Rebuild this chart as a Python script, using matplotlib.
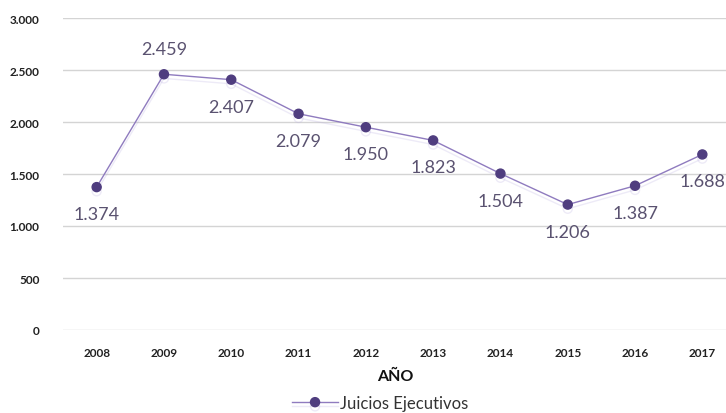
import matplotlib.pyplot as plt
import matplotlib.patheffects as pe
from matplotlib.ticker import FuncFormatter

years = ["2008", "2009", "2010", "2011", "2012", "2013", "2014", "2015", "2016", "2017"]
juicios = [1374, 2459, 2407, 2079, 1950, 1823, 1504, 1206, 1387, 1688]
label_above = [False, True, False, False, False, False, False, False, False, False]
yticks = [0, 500, 1000, 1500, 2000, 2500, 3000]

plt.rcParams["font.family"] = ["Lato", "DejaVu Sans"]

LINE = "#8f7bbf"
MARK = "#4f3d7f"
TXT = "#5a5270"


def fmt(v):
    return f"{int(v):,}".replace(",", ".")


fig = plt.figure(figsize=(7.26, 4.14), dpi=100)
# axes runs slightly past the right edge, as in the cropped original
ax = fig.add_axes([63 / 726, 83 / 414, 673 / 726, 312 / 414])

x = list(range(len(years)))
ax.plot(x, juicios, color=LINE, lw=1.0, marker="o", markersize=6.5,
        markerfacecolor=MARK, markeredgecolor=MARK, label="Juicios Ejecutivos",
        zorder=3,
        path_effects=[pe.SimpleLineShadow(offset=(0, -3), shadow_color="#b9aee0", alpha=0.25),
                      pe.Normal()])

for xi, v, up in zip(x, juicios, label_above):
    off = 25 if up else -27
    ax.annotate(fmt(v), (xi, v), xytext=(0, off), textcoords="offset pixels",
                ha="center", va="center", fontsize=13, color=TXT)

ax.set_xlim(-0.5, len(years) - 0.5)
ax.set_ylim(0, 3000)
ax.set_yticks(yticks)
ax.yaxis.set_major_formatter(FuncFormatter(lambda v, p: fmt(v)))
ax.set_xticks(x)
ax.set_xticklabels(years)

for s in ax.spines.values():
    s.set_visible(False)
ax.grid(axis="y", color="#d4d4d4", lw=1)
ax.set_axisbelow(True)
ax.tick_params(axis="both", length=0, labelsize=8.5, labelcolor="#222222")
ax.tick_params(axis="y", pad=17)
ax.tick_params(axis="x", pad=12)
for lab in ax.get_xticklabels() + ax.get_yticklabels():
    lab.set_fontweight("bold")

fig.text(395 / 726, 1 - 377 / 414, "AÑO", ha="center", va="center",
         fontsize=11.5, fontweight="bold", color="#111111")

fig.legend(loc="center", bbox_to_anchor=(380 / 726, 1 - 404 / 414), frameon=False,
           fontsize=12, handlelength=2.8, handletextpad=0.1, labelcolor="#333333")

fig.savefig("out.png", dpi=100)
